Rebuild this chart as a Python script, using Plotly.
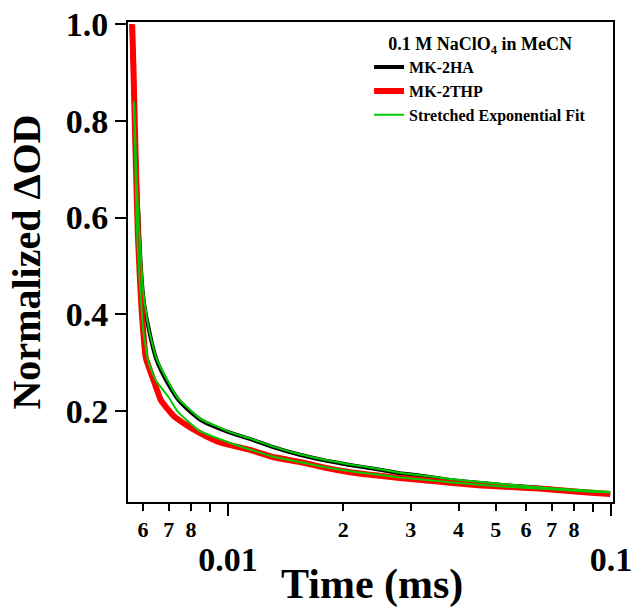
import plotly.graph_objects as go

# ---- data ----
t_ha = [0.00560, 0.00566, 0.00572, 0.00578, 0.00584, 0.0059, 0.0060, 0.0061, 0.0062, 0.00635,
        0.00649, 0.0067, 0.0070, 0.0074, 0.0079, 0.00845, 0.0093, 0.0102, 0.0114, 0.0130,
        0.0154, 0.0180, 0.0208, 0.0245, 0.0281, 0.033, 0.038, 0.045, 0.053, 0.0625,
        0.075, 0.087, 0.0995]
y_ha = [1.00, 0.88, 0.78, 0.68, 0.60, 0.52, 0.44, 0.40, 0.372, 0.335,
        0.308, 0.282, 0.254, 0.224, 0.201, 0.182, 0.166, 0.154, 0.142, 0.126,
        0.109, 0.097, 0.088, 0.079, 0.071, 0.064, 0.057, 0.051, 0.046, 0.042,
        0.036, 0.032, 0.028]

t_thp = [0.00562, 0.00566, 0.00570, 0.00576, 0.00582, 0.0059, 0.00596, 0.0061, 0.0064, 0.00668,
         0.0072, 0.0078, 0.00845, 0.0095, 0.01141, 0.0130, 0.01542, 0.0180, 0.0208, 0.0245,
         0.0281, 0.033, 0.038, 0.045, 0.053, 0.0625, 0.075, 0.087, 0.0995]
y_thp = [1.00, 0.92, 0.82, 0.68, 0.56, 0.46, 0.40, 0.31, 0.262, 0.222,
         0.190, 0.170, 0.154, 0.135, 0.119, 0.105, 0.094, 0.082, 0.073, 0.066,
         0.061, 0.056, 0.051, 0.046, 0.043, 0.040, 0.035, 0.031, 0.028]

t_fit = [0.00568, 0.0058, 0.0060, 0.0062, 0.00649, 0.0070, 0.0074, 0.00845, 0.0102, 0.0114,
         0.0130, 0.0154, 0.018, 0.0208, 0.0245, 0.0281, 0.033, 0.038, 0.045, 0.053,
         0.0625, 0.075, 0.087, 0.0995]
fit_ha = [0.84, 0.64, 0.45, 0.372, 0.310, 0.258, 0.226, 0.184, 0.155, 0.143,
          0.127, 0.110, 0.098, 0.089, 0.080, 0.072, 0.065, 0.059, 0.053, 0.048,
          0.043, 0.038, 0.035, 0.032]
fit_thp = [0.84, 0.55, 0.37, 0.300, 0.262, 0.228, 0.198, 0.158, 0.133, 0.120,
           0.106, 0.094, 0.083, 0.075, 0.068, 0.062, 0.057, 0.052, 0.047, 0.043,
           0.040, 0.036, 0.033, 0.031]

minor_vals = [0.006, 0.007, 0.008, 0.02, 0.03, 0.04, 0.05, 0.06, 0.07, 0.08]
minor_text = ["6", "7", "8", "2", "3", "4", "5", "6", "7", "8"]
unlabeled_vals = [0.009, 0.09]
major_vals = [0.01, 0.1]
major_text = ["0.01", "0.1"]
y_vals = [0.2, 0.4, 0.6, 0.8, 1.0]
y_text = ["0.2", "0.4", "0.6", "0.8", "1.0"]

FONT = "Liberation Serif"
xr = [-2.2611, -0.9948]
yr = [0.0113, 1.0046]

fig = go.Figure()
fig.add_trace(go.Scatter(x=t_ha, y=y_ha, mode="lines", name="MK-2HA",
                         line=dict(color="black", width=4, shape="spline", smoothing=0.4)))
fig.add_trace(go.Scatter(x=t_thp, y=y_thp, mode="lines", name="MK-2THP",
                         line=dict(color="#ff0000", width=6, shape="spline", smoothing=0.4)))
fig.add_trace(go.Scatter(x=t_fit, y=fit_ha, mode="lines", name="Stretched Exponential Fit",
                         line=dict(color="#00cc00", width=2, shape="spline", smoothing=0.4)))
fig.add_trace(go.Scatter(x=t_fit, y=fit_thp, mode="lines", name="Stretched Exponential Fit",
                         showlegend=False,
                         line=dict(color="#00cc00", width=2, shape="spline", smoothing=0.4)))

fig.update_layout(
    width=633, height=608,
    margin=dict(l=128, r=20, t=22, b=106, autoexpand=False),
    paper_bgcolor="white", plot_bgcolor="white",
    font=dict(family=FONT, color="black"),
    showlegend=True,
    legend=dict(
        x=0.497, y=0.99, xanchor="left", yanchor="top",
        bgcolor="rgba(0,0,0,0)",
        font=dict(family=FONT, size=16, weight="bold"),
        title=dict(text="0.1 M NaClO<sub>4</sub> in MeCN", side="top center",
                   font=dict(family=FONT, size=18, weight="bold")),
        tracegroupgap=0, itemwidth=30,
    ),
    xaxis=dict(
        type="log", range=xr, showgrid=False, zeroline=False, automargin=False,
        showline=True, linecolor="black", linewidth=2, mirror=True,
        ticks="outside", ticklen=12, tickwidth=2, tickcolor="black",
        tickvals=major_vals, ticktext=major_text,
        tickfont=dict(family=FONT, size=34, weight="bold"),
        ticklabelstandoff=14,
        minor=dict(tickvals=unlabeled_vals, ticks="outside", ticklen=8,
                   tickwidth=2, tickcolor="black", showgrid=False),
    ),
    xaxis2=dict(
        type="log", range=xr, overlaying="x", anchor="y", side="bottom",
        showgrid=False, zeroline=False, showline=False, automargin=False,
        ticks="outside", ticklen=8, tickwidth=2, tickcolor="black",
        tickvals=minor_vals, ticktext=minor_text,
        tickfont=dict(family=FONT, size=22, weight="bold"),
        ticklabelstandoff=0,
    ),
    yaxis=dict(
        range=yr, showgrid=False, zeroline=False, automargin=False,
        showline=True, linecolor="black", linewidth=2, mirror=True,
        ticks="outside", ticklen=11, tickwidth=2, tickcolor="black",
        tickvals=y_vals, ticktext=y_text,
        tickfont=dict(family=FONT, size=34, weight="bold"),
        title=dict(text="Normalized ΔOD", font=dict(family=FONT, size=40, weight="bold"), standoff=13),
    ),
    annotations=[dict(text="Time (ms)", xref="paper", yref="paper", x=0.503, y=-0.172,
                      xanchor="center", yanchor="middle", showarrow=False,
                      font=dict(family=FONT, size=42, weight="bold"))],
)
# invisible helper trace so the minor-label axis renders
fig.add_trace(go.Scatter(x=[0.01], y=[0.5], xaxis="x2", mode="markers",
                         marker=dict(opacity=0), showlegend=False, hoverinfo="skip"))

fig.write_html("out.html", config={"displayModeBar": False},
               post_script="document.body.style.margin='0';")
